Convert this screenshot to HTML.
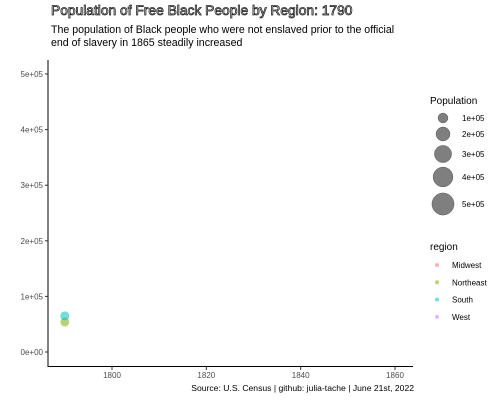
<!DOCTYPE html>
<html><head><meta charset="utf-8"><style>
body{margin:0;background:#fff;font-family:"Liberation Sans",sans-serif;}
svg text{font-family:"Liberation Sans",sans-serif;}
</style></head><body>
<svg width="500" height="400">
<text x="51" y="15" font-size="13.8" fill="#fff" stroke="#222" stroke-width="0.8">Population of Free Black People by Region: 1790</text>
<text x="51" y="33" font-size="10.6" fill="#000">The population of Black people who were not enslaved prior to the official</text>
<text x="51" y="46" font-size="10.6" fill="#000">end of slavery in 1865 steadily increased</text>
<g id="axes"></g>
<g id="points"></g>
<g id="legend"></g>
<text x="414" y="391" font-size="8.6" text-anchor="end" fill="#000">Source: U.S. Census | github: julia-tache | June 21st, 2022</text>
</svg>
<script>
const yTicks=[0,100000,200000,300000,400000,500000];
const yTickLabels=["0e+00","1e+05","2e+05","3e+05","4e+05","5e+05"];
const xTicks=[1800,1820,1840,1860];
const regions=["Midwest","Northeast","South","West"];
const regionColors=["#F8766D","#7CAE00","#00BFC4","#C77CFF"];
const pointYears=[1790,1790];
const pointValues=[54000,65000];
const pointRegions=["Northeast","South"];
const sizeBreaks=[100000,200000,300000,400000,500000];
const sizeLabels=["1e+05","2e+05","3e+05","4e+05","5e+05"];
const NS="http://www.w3.org/2000/svg";
const xs=v=>112+(v-1800)*(283/60);
const ys=v=>352-v*(278/500000);
const rs=v=>Math.sqrt(v)*0.0156;
function mk(t,a,p){const e=document.createElementNS(NS,t);for(const k in a)e.setAttribute(k,a[k]);p.appendChild(e);return e;}
const ax=document.getElementById('axes');
let l=mk('line',{x1:48,y1:60,x2:48,y2:367,stroke:'#000','stroke-width':1},ax);


l=mk('line',{x1:48,y1:366.5,x2:413,y2:366.5,stroke:'#000','stroke-width':1},ax);


yTicks.forEach((v,i)=>{
 mk('line',{x1:45,x2:48,y1:ys(v),y2:ys(v),stroke:'#333'},ax);
 const t=mk('text',{x:43,y:ys(v)+3,'font-size':8,'text-anchor':'end',fill:'#4d4d4d'},ax);
 t.textContent=yTickLabels[i];
 
 
});
xTicks.forEach(v=>{
 mk('line',{x1:xs(v),x2:xs(v),y1:367,y2:370,stroke:'#333'},ax);
 const t=mk('text',{x:xs(v),y:378,'font-size':8,'text-anchor':'middle',fill:'#4d4d4d'},ax);
 t.textContent=v;
 
 
});
const pg=document.getElementById('points');
pointValues.forEach((v,i)=>{
 const c=mk('circle',{cx:xs(pointYears[i]),cy:ys(v),r:Math.max(4.5,rs(v)),fill:regionColors[regions.indexOf(pointRegions[i])],'fill-opacity':0.55},pg);
 
 
});
const lg=document.getElementById('legend');
let t=mk('text',{x:430,y:104,'font-size':10,fill:'#000'},lg);
t.textContent='Population';


const sy=[118,134,154,177,204];
sizeBreaks.forEach((v,i)=>{
 const c=mk('circle',{cx:443,cy:sy[i],r:rs(v),fill:'#000','fill-opacity':0.5,stroke:'#555','stroke-width':0.5},lg);
 
 
 const tt=mk('text',{x:462,y:sy[i]+3,'font-size':8,fill:'#000'},lg);
 tt.textContent=sizeLabels[i];
 
 
});
t=mk('text',{x:430,y:250,'font-size':10,fill:'#000'},lg);
t.textContent='region';


regions.forEach((r,i)=>{
 const y=265+i*17.3;
 const c=mk('circle',{cx:437,cy:y,r:2,fill:regionColors[i],'fill-opacity':0.55},lg);
 
 
 const tt=mk('text',{x:452,y:y+3,'font-size':8,fill:'#000'},lg);
 tt.textContent=r;
 
 
});
</script>
</body></html>
